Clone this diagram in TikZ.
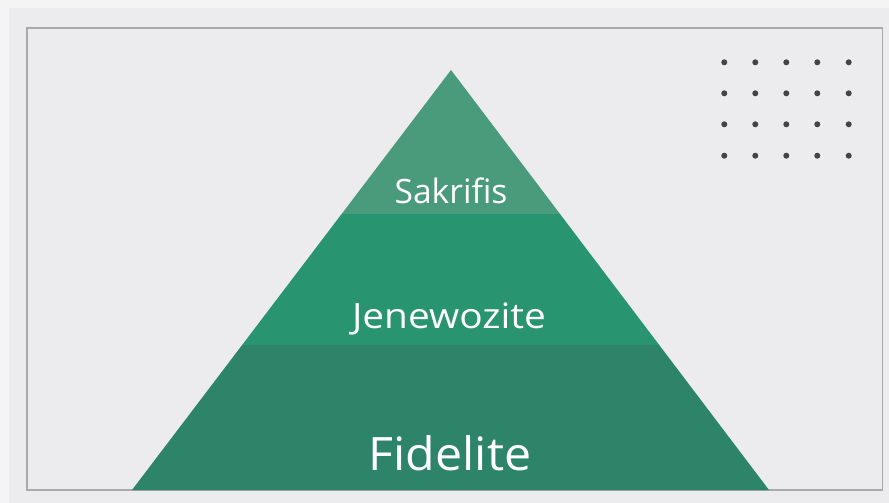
\documentclass[tikz,border=0pt]{standalone}
\usepackage{fontspec}
\usetikzlibrary{calc}
\setmainfont{Open Sans}
\definecolor{bgouter}{HTML}{F4F4F5}
\definecolor{bginner}{HTML}{ECECEE}
\definecolor{framegray}{HTML}{A9A9AB}
\definecolor{topgreen}{HTML}{4A9A7C}
\definecolor{midgreen}{HTML}{299470}
\definecolor{botgreen}{HTML}{2E8468}
\definecolor{dotgray}{HTML}{444444}
\tikzset{
  layertext/.style={text=white, inner sep=0pt, anchor=base},
  dotmark/.style={fill=dotgray, draw=none},
}
\begin{document}
\begin{tikzpicture}[x=1pt,y=-1pt]
\useasboundingbox (0,0) rectangle (889,503);
\fill[bgouter] (0,0) rectangle (889,503);
\fill[bginner] (9,8) rectangle (889,503);
\draw[framegray, line width=1.2pt] (27,28) rectangle (882.5,490);
% pyramid geometry: apex (451,70), base y=490, x 132..769
\coordinate (apex) at (451,70);
\coordinate (bl) at (132,490);
\coordinate (br) at (769,490);
% layer boundaries at y=214 and y=345
\coordinate (t1l) at ($(apex)!{(214-70)/420}!(bl)$);
\coordinate (t1r) at ($(apex)!{(214-70)/420}!(br)$);
\coordinate (t2l) at ($(apex)!{(345-70)/420}!(bl)$);
\coordinate (t2r) at ($(apex)!{(345-70)/420}!(br)$);
\fill[botgreen] (t2l) -- (t2r) -- (br) -- (bl) -- cycle;
\fill[midgreen] (t1l) -- (t1r) -- (t2r) -- (t2l) -- cycle;
\fill[topgreen] (apex) -- (t1r) -- (t1l) -- cycle;
\node[layertext, font=\fontsize{33.6}{40}\selectfont] (sak) at (451,203) {Sakrifis};
\node[layertext, font=\fontsize{35}{42}\selectfont, xscale=1.11] (jen) at (449,328) {Jenewozite};
\node[layertext, font=\fontsize{46}{55}\selectfont, xscale=1.05] (fid) at (450,470) {Fidelite};
% dot grid
\foreach \r [count=\i] in {62.3,93.3,124.3,155.7}{
  \foreach \c [count=\j] in {724.3,755.3,786.3,817.3,848.7}{
    \fill[dotmark] (\c,\r) circle (3);
  }
}
\end{tikzpicture}
\end{document}
